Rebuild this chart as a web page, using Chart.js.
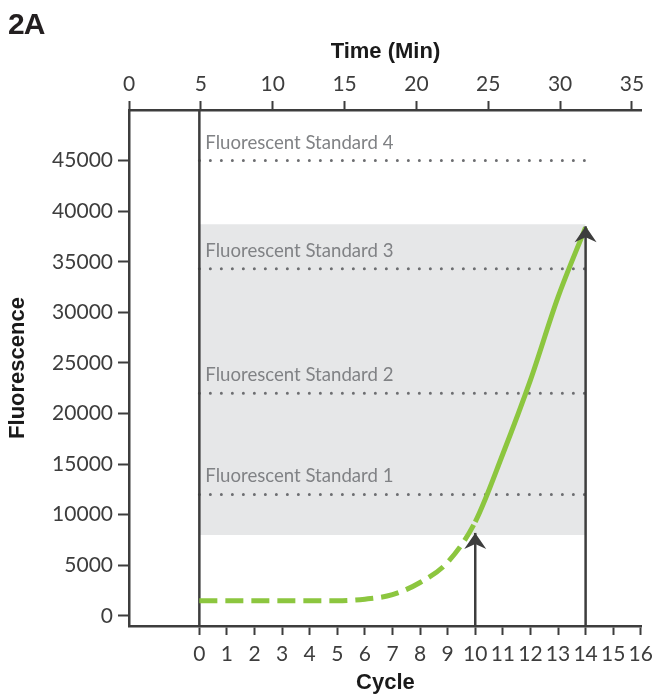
<!DOCTYPE html>
<html>
<head>
<meta charset="utf-8">
<script src="https://cdn.jsdelivr.net/npm/chart.js@4.4.1/dist/chart.umd.min.js"></script>
<style>
  html, body { margin: 0; padding: 0; background: #fff; }
  #wrap { position: relative; width: 660px; height: 697px; }
  #panel { position: absolute; left: 8px; top: 7px; font: bold 30px "Liberation Sans", Arial, sans-serif; color: #231f20; letter-spacing: -1px; }
</style>
</head>
<body>
<div id="wrap">
  <canvas id="chartQpcr"></canvas>
  <div id="panel">2A</div>
</div>
<script>
// curve
const cycles = [0, 1, 2, 3, 4, 5, 6, 7, 8, 9, 10, 11, 12, 13, 14];
const fluorescence = [1500, 1500, 1500, 1500, 1500, 1500, 1650, 2100, 3300, 5300, 9300, 16000, 23300, 31500, 38400];
const dashedUntil = 10;

const standardNames = ["Fluorescent Standard 1", "Fluorescent Standard 2", "Fluorescent Standard 3", "Fluorescent Standard 4"];
const standardLevels = [12000, 22000, 34300, 45000];
const standardSpan = [0, 14];

const bandSpan = [0, 14];
const bandTop = 38700;
const bandBottom = 8000;

const arrowCycles = [10, 14];
const arrowTips = [8200, 38500];
const startCycle = 0;

const cycleTicks = [0, 1, 2, 3, 4, 5, 6, 7, 8, 9, 10, 11, 12, 13, 14, 15, 16];
const timeTicks = [0, 5, 10, 15, 20, 25, 30, 35];
const fluorTicks = [0, 5000, 10000, 15000, 20000, 25000, 30000, 35000, 40000, 45000];

const yMin = -1000, yMax = 50000;

const dark = '#3d3d3d';
const green = '#8cc63f';

const datasets = [];

datasets.push({
  data: bandSpan.map(c => ({ x: c, y: bandTop })),
  borderWidth: 0,
  backgroundColor: '#e6e7e8',
  fill: { value: bandBottom },
  pointRadius: 0,
  order: 10
});

standardLevels.forEach(lvl => {
  datasets.push({
    data: standardSpan.map(c => ({ x: c, y: lvl })),
    borderColor: '#6d6e71',
    borderWidth: 3,
    borderDash: [0, 11],
    borderCapStyle: 'round',
    pointRadius: 0,
    fill: false,
    order: 6
  });
});

datasets.push({
  data: [{ x: startCycle, y: yMin }, { x: startCycle, y: yMax }],
  borderColor: dark,
  borderWidth: 2.5,
  pointRadius: 0,
  order: 5
});

datasets.push({
  data: cycles.map((c, i) => ({ x: c, y: fluorescence[i] })),
  borderColor: green,
  borderWidth: 5,
  cubicInterpolationMode: 'monotone',
  pointRadius: 0,
  segment: {
    borderDash: ctx => ctx.p1.parsed.x <= dashedUntil ? [18, 8] : undefined
  },
  order: 3
});

arrowCycles.forEach((c, i) => {
  datasets.push({
    data: [{ x: c, y: yMin }, { x: c, y: arrowTips[i] }],
    borderColor: dark,
    borderWidth: 2.5,
    pointRadius: 0,
    arrow: true,
    order: 1
  });
});

const annotations = {
  id: 'annotations',
  afterDatasetsDraw(chart) {
    const { ctx, scales: { x, y } } = chart;
    ctx.save();
    ctx.font = '18.6px Lato';
    ctx.fillStyle = '#808285';
    ctx.textBaseline = 'alphabetic';
    standardNames.forEach((name, i) => {
      ctx.fillText(name, x.getPixelForValue(standardSpan[0]) + 6, y.getPixelForValue(standardLevels[i]) - 12);
    });
    // arrow heads
    ctx.fillStyle = dark;
    chart.data.datasets.forEach((ds, i) => {
      if (!ds.arrow) return;
      const pts = chart.getDatasetMeta(i).data;
      const tip = pts[pts.length - 1];
      ctx.beginPath();
      ctx.moveTo(tip.x, tip.y);
      ctx.lineTo(tip.x + 11, tip.y + 16);
      ctx.lineTo(tip.x, tip.y + 11);
      ctx.lineTo(tip.x - 11, tip.y + 16);
      ctx.closePath();
      ctx.fill();
    });
    ctx.restore();
  }
};

const tickFont = { family: 'Lato', size: 21 };
const titleFont = { family: '"Liberation Sans", Arial, sans-serif', size: 22, weight: 'bold' };

new Chart(document.getElementById('chartQpcr').getContext('2d'), {
  type: 'line',
  data: { datasets },
  options: {
    responsive: true,
    maintainAspectRatio: false,
    animation: false,
    layout: { padding: { left: 0, right: 14, top: 0, bottom: 0 } },
    plugins: { legend: { display: false }, tooltip: { enabled: false } },
    scales: {
      x: {
        type: 'linear',
        position: 'bottom',
        min: -2.55,
        max: 16.04,
        afterBuildTicks: s => { s.ticks = cycleTicks.map(v => ({ value: v })); },
        afterFit: s => { s.height = 71; },
        ticks: { font: tickFont, color: dark, padding: 7, autoSkip: false, maxRotation: 0, callback: v => String(v) },
        grid: { drawOnChartArea: false, drawTicks: true, tickLength: 9, tickColor: dark, tickWidth: 2 },
        border: { display: true, color: dark, width: 2.5 },
        title: { display: true, text: 'Cycle', font: titleFont, color: '#1a1a1a', padding: { top: 0, bottom: 1 } }
      },
      time: {
        type: 'linear',
        axis: 'x',
        position: 'top',
        display: true,
        min: 0,
        max: 35.69,
        afterBuildTicks: s => { s.ticks = timeTicks.map(v => ({ value: v })); },
        afterFit: s => { s.height = 110; },
        ticks: { font: tickFont, color: dark, padding: 4, autoSkip: false, maxRotation: 0, callback: v => String(v) },
        grid: { drawOnChartArea: false, drawTicks: true, tickLength: 9, tickColor: dark, tickWidth: 2 },
        border: { display: true, color: dark, width: 2.5 },
        title: { display: true, text: 'Time (Min)', font: titleFont, color: '#1a1a1a', padding: { top: 39, bottom: 0 } }
      },
      y: {
        type: 'linear',
        position: 'left',
        min: yMin,
        max: yMax,
        afterBuildTicks: s => { s.ticks = fluorTicks.map(v => ({ value: v })); },
        afterFit: s => { s.width = 129; },
        ticks: { font: tickFont, color: dark, padding: 5, autoSkip: false, callback: v => String(v) },
        grid: { drawOnChartArea: false, drawTicks: true, tickLength: 11, tickColor: dark, tickWidth: 2 },
        border: { display: true, color: dark, width: 2.5 },
        title: { display: true, text: 'Fluorescence', font: titleFont, color: '#1a1a1a', padding: { top: 5, bottom: 0 } }
      }
    }
  },
  plugins: [annotations]
});
</script>
</body>
</html>
